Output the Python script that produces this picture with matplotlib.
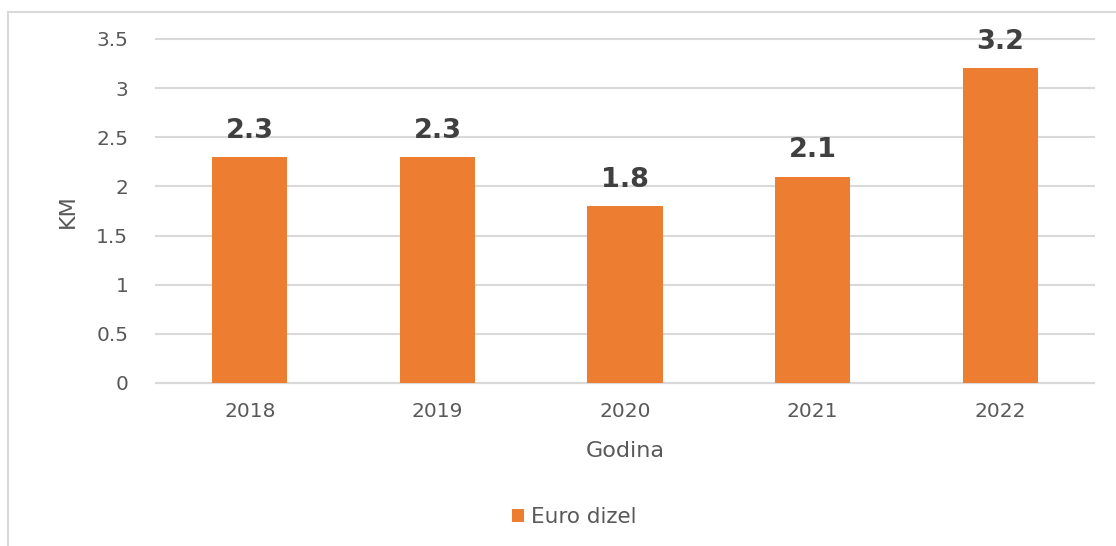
import matplotlib
matplotlib.use("Agg")
import matplotlib.pyplot as plt
from matplotlib.patches import Rectangle

years = ["2018", "2019", "2020", "2021", "2022"]
values = [2.3, 2.3, 1.8, 2.1, 3.2]
yticks = [0, 0.5, 1, 1.5, 2, 2.5, 3, 3.5]
ytick_labels = ["0", "0.5", "1", "1.5", "2", "2.5", "3", "3.5"]
series_name = "Euro dizel"

plt.rcParams['font.family'] = ['DejaVu Sans']

fig = plt.figure(figsize=(11.16, 5.46), dpi=100)
ax = fig.add_axes([156/1116, 1-383/546, (1094-156)/1116, (383-39)/546])

bar_color = "#ED7D31"
grid_color = "#D9D9D9"
text_color = "#595959"

x = list(range(len(years)))
bars = ax.bar(x, values, width=0.4, color=bar_color, label=series_name, zorder=3)
ax.set_xlim(-0.5, len(years) - 0.5)
ax.set_ylim(0, 3.5)
ax.set_yticks(yticks)
ax.set_yticklabels(ytick_labels)
ax.set_xticks(x)
ax.set_xticklabels(years)
ax.yaxis.grid(True, color=grid_color, linewidth=1.5, zorder=0)
for gl in ax.get_ygridlines():
    gl.set_clip_on(False)
ax.set_axisbelow(True)
for s in ["top", "right", "left"]:
    ax.spines[s].set_visible(False)
ax.spines["bottom"].set_color(grid_color)
ax.spines["bottom"].set_linewidth(1.5)
ax.tick_params(axis="both", length=0, colors=text_color, labelsize=14.5)
ax.tick_params(axis="y", pad=20)
ax.tick_params(axis="x", pad=14)

for xi, v in zip(x, values):
    ax.annotate(f"{v}", (xi, v), xytext=(0, 19), textcoords="offset points",
                ha="center", va="center", fontsize=19.5, fontweight="bold",
                color="#404040")

ax.set_ylabel("KM", fontsize=16, color=text_color, labelpad=13)
ax.set_xlabel("Godina", fontsize=16, color=text_color, labelpad=14)

fig.legend(handles=[bars], labels=[series_name], loc="center",
           bbox_to_anchor=(574/1116, 1-517/546), frameon=False,
           fontsize=15.5, handlelength=0.6, handleheight=0.6, handletextpad=0.3,
           labelcolor=text_color)

# outer chart border (cropped on right and bottom)
fig.patches.append(Rectangle((8/1116, -0.1), 1.2, 1 - 12/546 + 0.1,
                             transform=fig.transFigure, fill=False,
                             edgecolor=grid_color, linewidth=1.5))

fig.savefig("out.png", dpi=100)
